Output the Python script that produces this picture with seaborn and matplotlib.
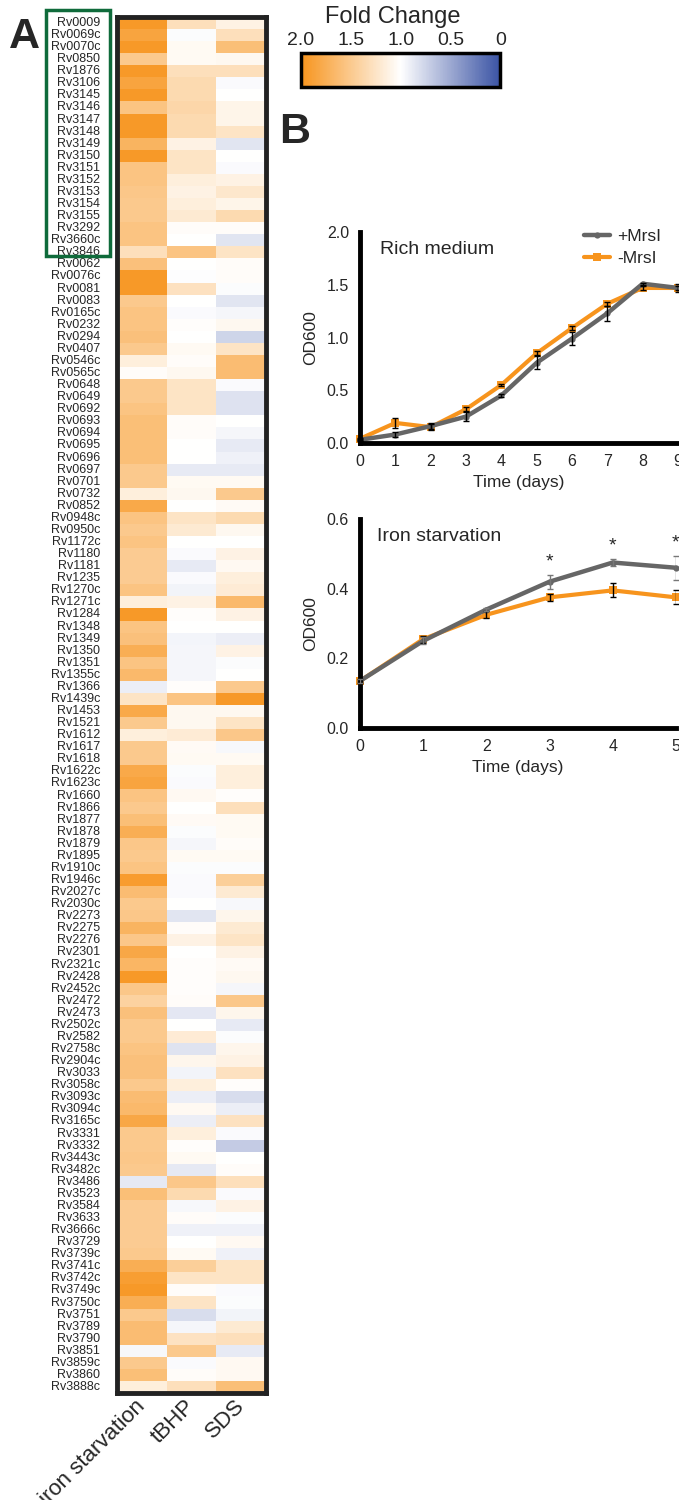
import matplotlib
matplotlib.use("Agg")
import matplotlib.pyplot as plt
from matplotlib.colors import LinearSegmentedColormap
from matplotlib.patches import Rectangle
import matplotlib.transforms as mtransforms
import seaborn as sns
import pandas as pd

sns.set_style("white")
plt.rcParams['font.family'] = ['Liberation Sans', 'DejaVu Sans']

# heatmap data (fold change)
genes = ['Rv0009', 'Rv0069c', 'Rv0070c', 'Rv0850', 'Rv1876', 'Rv3106', 'Rv3145', 'Rv3146', 'Rv3147', 'Rv3148',
         'Rv3149', 'Rv3150', 'Rv3151', 'Rv3152', 'Rv3153', 'Rv3154', 'Rv3155', 'Rv3292', 'Rv3660c', 'Rv3846',
         'Rv0062', 'Rv0076c', 'Rv0081', 'Rv0083', 'Rv0165c', 'Rv0232', 'Rv0294', 'Rv0407', 'Rv0546c', 'Rv0565c',
         'Rv0648', 'Rv0649', 'Rv0692', 'Rv0693', 'Rv0694', 'Rv0695', 'Rv0696', 'Rv0697', 'Rv0701', 'Rv0732', 'Rv0852',
         'Rv0948c', 'Rv0950c', 'Rv1172c', 'Rv1180', 'Rv1181', 'Rv1235', 'Rv1270c', 'Rv1271c', 'Rv1284', 'Rv1348',
         'Rv1349', 'Rv1350', 'Rv1351', 'Rv1355c', 'Rv1366', 'Rv1439c', 'Rv1453', 'Rv1521', 'Rv1612', 'Rv1617', 'Rv1618',
         'Rv1622c', 'Rv1623c', 'Rv1660', 'Rv1866', 'Rv1877', 'Rv1878', 'Rv1879', 'Rv1895', 'Rv1910c', 'Rv1946c',
         'Rv2027c', 'Rv2030c', 'Rv2273', 'Rv2275', 'Rv2276', 'Rv2301', 'Rv2321c', 'Rv2428', 'Rv2452c', 'Rv2472',
         'Rv2473', 'Rv2502c', 'Rv2582', 'Rv2758c', 'Rv2904c', 'Rv3033', 'Rv3058c', 'Rv3093c', 'Rv3094c', 'Rv3165c',
         'Rv3331', 'Rv3332', 'Rv3443c', 'Rv3482c', 'Rv3486', 'Rv3523', 'Rv3584', 'Rv3633', 'Rv3666c', 'Rv3729', 'Rv3739c',
         'Rv3741c', 'Rv3742c', 'Rv3749c', 'Rv3750c', 'Rv3751', 'Rv3789', 'Rv3790', 'Rv3851', 'Rv3859c', 'Rv3860', 'Rv3888c']

iron = [1.95, 1.85, 1.95, 1.5, 1.95, 1.85, 1.95, 1.55, 1.95, 1.95, 1.7, 1.95, 1.55, 1.55, 1.52, 1.5, 1.5, 1.55, 1.55, 1.3,
        1.58, 1.95, 1.95, 1.5, 1.55, 1.55, 1.58, 1.5, 1.15, 1.03, 1.5, 1.5, 1.55, 1.6, 1.6, 1.6, 1.6, 1.5, 1.5, 1.15, 1.8,
        1.55, 1.5, 1.55, 1.48, 1.48, 1.48, 1.55, 1.15, 1.95, 1.55, 1.58, 1.75, 1.55, 1.65, 0.9, 1.25, 1.8, 1.5, 1.15, 1.5, 1.5,
        1.8, 1.85, 1.55, 1.5, 1.6, 1.75, 1.52, 1.5, 1.55, 1.92, 1.62, 1.5, 1.52, 1.7, 1.52, 1.82, 1.68, 1.95, 1.52, 1.42,
        1.58, 1.5, 1.5, 1.55, 1.58, 1.58, 1.5, 1.62, 1.65, 1.82, 1.5, 1.5, 1.52, 1.5, 0.87, 1.6, 1.48, 1.48, 1.48, 1.48, 1.5,
        1.75, 1.9, 1.95, 1.75, 1.5, 1.62, 1.62, 0.96, 1.5, 1.6, 1.15]
tbhp = [1.3, 0.98, 1.05, 1.05, 1.3, 1.35, 1.35, 1.38, 1.35, 1.35, 1.12, 1.25, 1.25, 1.15, 1.12, 1.15, 1.2, 1.03, 1.0, 1.55,
        1.0, 0.99, 1.28, 1.0, 0.97, 1.02, 1.0, 1.05, 1.03, 1.07, 1.25, 1.25, 1.25, 1.03, 1.03, 1.0, 1.0, 0.88, 1.05, 1.07, 1.0,
        1.25, 1.2, 1.0, 0.97, 0.88, 0.97, 0.93, 1.12, 1.02, 1.0, 0.94, 0.95, 0.95, 0.95, 1.02, 1.55, 1.07, 1.07, 1.18, 1.04, 1.05,
        0.98, 0.97, 1.06, 1.0, 1.04, 0.98, 0.95, 1.05, 0.98, 0.97, 0.97, 1.0, 0.85, 1.03, 1.12, 1.0, 1.02, 1.02, 1.02, 1.03,
        0.86, 1.0, 1.18, 0.84, 1.08, 0.93, 1.15, 0.9, 1.06, 0.9, 1.15, 1.02, 1.05, 0.87, 1.52, 1.35, 0.96, 1.03, 0.92, 1.0, 1.05,
        1.45, 1.25, 1.03, 1.25, 0.8, 0.95, 1.27, 1.5, 0.97, 1.03, 1.3]
sds = [1.12, 1.3, 1.6, 1.07, 1.3, 0.97, 1.0, 1.1, 1.1, 1.25, 0.85, 1.0, 0.97, 1.12, 1.22, 1.1, 1.35, 1.03, 0.85, 1.25,
       1.03, 1.03, 0.98, 0.85, 0.95, 1.07, 0.75, 1.25, 1.62, 1.62, 0.97, 0.83, 0.83, 1.0, 0.95, 0.88, 0.92, 0.88, 1.05, 1.5, 1.04,
       1.35, 1.07, 1.0, 1.12, 1.06, 1.15, 1.18, 1.65, 1.12, 1.0, 0.9, 1.12, 0.98, 1.0, 1.5, 1.95, 1.07, 1.25, 1.52, 0.96, 1.05,
       1.15, 1.15, 1.02, 1.3, 1.05, 1.05, 1.03, 1.05, 0.98, 1.45, 1.2, 0.96, 1.08, 1.2, 1.25, 1.12, 1.04, 1.07, 0.95, 1.52,
       1.08, 0.88, 0.98, 1.08, 1.12, 1.28, 1.02, 0.8, 0.9, 1.28, 0.97, 0.7, 1.0, 1.03, 1.3, 0.97, 1.12, 0.98, 0.92, 1.06, 0.92,
       1.25, 1.25, 0.97, 0.98, 0.93, 1.2, 1.3, 0.88, 1.06, 1.06, 1.6]
conditions = ['iron starvation', 'tBHP', 'SDS']
n_boxed = 20
cbar_ticks = [2.0, 1.5, 1.0, 0.5, 0.0]
cbar_ticklabels = ['2.0', '1.5', '1.0', '0.5', '0']

# growth curves
days_rich = [0, 1, 2, 3, 4, 5, 6, 7, 8, 9]
rich_plus = [0.03, 0.08, 0.16, 0.25, 0.45, 0.76, 0.99, 1.23, 1.51, 1.47]
rich_plus_err = [0.01, 0.02, 0.03, 0.04, 0.01, 0.06, 0.06, 0.07, 0.01, 0.04]
rich_minus = [0.04, 0.19, 0.15, 0.32, 0.55, 0.85, 1.09, 1.32, 1.47, 1.47]
rich_minus_err = [0.01, 0.05, 0.03, 0.02, 0.01, 0.02, 0.02, 0.02, 0.02, 0.02]

days_iron = [0, 1, 2, 3, 4, 5]
iron_plus = [0.135, 0.25, 0.34, 0.42, 0.475, 0.46]
iron_plus_err = [0.005, 0.01, 0.005, 0.02, 0.01, 0.035]
iron_minus = [0.135, 0.255, 0.325, 0.375, 0.395, 0.375]
iron_minus_err = [0.005, 0.01, 0.01, 0.01, 0.02, 0.02]
signif_days = [3, 4, 5]

ORANGE = '#F7941D'
GRAY = '#666666'
BLUE = '#3A53A4'

cmap = LinearSegmentedColormap.from_list('fc', [(0, BLUE), (0.5, 'white'), (1, ORANGE)])

fig = plt.figure(figsize=(6.79, 15), dpi=100)

# ---- panel A: heatmap
ax = fig.add_axes([0.1723, 0.0713, 0.2194, 0.9174])
cax = fig.add_axes([0.443, 0.942, 0.294, 0.0227])
df = pd.DataFrame({conditions[0]: iron, conditions[1]: tbhp, conditions[2]: sds}, index=genes)
sns.heatmap(df, ax=ax, cmap=cmap, vmin=0, vmax=2, cbar_ax=cax, yticklabels=True,
            cbar_kws={'orientation': 'horizontal', 'ticks': cbar_ticks})
ax.tick_params(axis='y', length=0, pad=12, labelsize=9)
ax.set_yticklabels(ax.get_yticklabels(), rotation=0)
ax.tick_params(axis='x', length=0, pad=7)
ax.set_xticklabels(ax.get_xticklabels(), rotation=45, ha='right', va='center',
                   rotation_mode='anchor', fontsize=16)
for s in ax.spines.values():
    s.set_visible(True)
    s.set_linewidth(3.5)
    s.set_color('#222222')

# green box around first group of labels
trans = mtransforms.blended_transform_factory(ax.transAxes, ax.transData)
ax.add_patch(Rectangle((-0.477, -0.55), 0.43, n_boxed + 0.35, transform=trans,
                       fill=False, edgecolor='#0F6B3B', linewidth=2.5, clip_on=False))

# colorbar
cbar = ax.collections[0].colorbar
cax.invert_xaxis()
cbar.set_ticklabels(cbar_ticklabels)
cax.xaxis.set_ticks_position('both')
cax.tick_params(axis='x', direction='in', length=5, width=2, top=True, bottom=True,
                labeltop=True, labelbottom=False, labelsize=14, pad=3)
cbar.outline.set_linewidth(2.5)
cbar.outline.set_edgecolor('black')
fig.text(0.5788, 0.9887, 'Fold Change', ha='center', va='center', fontsize=17)

fig.text(0.013, 0.968, 'A', fontsize=31, fontweight='bold', ha='left', va='baseline')
fig.text(0.411, 0.9047, 'B', fontsize=31, fontweight='bold', ha='left', va='baseline')


def style_growth(a, ymax, yticks, xticks):
    a.set_xlim(0, xticks[-1])
    a.set_ylim(0, ymax)
    a.set_xticks(xticks)
    a.set_yticks(yticks)
    a.set_yticklabels([f'{t:.1f}' for t in yticks])
    for side in ['top', 'right']:
        a.spines[side].set_visible(False)
    for side in ['left', 'bottom']:
        a.spines[side].set_linewidth(3.5)
        a.spines[side].set_color('black')
    a.tick_params(width=3.5, length=7, labelsize=11.5, pad=1, color='black')
    a.set_xlabel('Time (days)', fontsize=12.5, labelpad=4)
    a.set_ylabel('OD600', fontsize=12.5, labelpad=6)
    for ln in a.lines:
        ln.set_clip_on(False)


# ---- rich medium
ax1 = fig.add_axes([0.5302, 0.7047, 0.4683, 0.1406])
sns.lineplot(x=days_rich, y=rich_minus, ax=ax1, color=ORANGE, marker='s', markersize=5.5,
             markeredgewidth=0, linewidth=3, label='-MrsI')
sns.lineplot(x=days_rich, y=rich_plus, ax=ax1, color=GRAY, marker='o', markersize=4.5,
             markeredgewidth=0, linewidth=3.2, label='+MrsI')
ax1.errorbar(days_rich, rich_minus, yerr=rich_minus_err, fmt='none', ecolor='black',
             elinewidth=1, capsize=2.5, capthick=1, zorder=4)
ax1.errorbar(days_rich, rich_plus, yerr=rich_plus_err, fmt='none', ecolor='black',
             elinewidth=1, capsize=2.5, capthick=1, zorder=4)
h, l = ax1.get_legend_handles_labels()
ax1.legend([h[1], h[0]], [l[1], l[0]], frameon=False, fontsize=12.5, loc='upper left',
           bbox_to_anchor=(0.655, 1.09), handlelength=1.5, handletextpad=0.4, labelspacing=0.4)
style_growth(ax1, 2.0, [0, 0.5, 1.0, 1.5, 2.0], days_rich)
ax1.text(0.063, 0.915, 'Rich medium', transform=ax1.transAxes, fontsize=14, va='center')

# ---- iron starvation
ax2 = fig.add_axes([0.5302, 0.5147, 0.4653, 0.1393])
sns.lineplot(x=days_iron, y=iron_minus, ax=ax2, color=ORANGE, marker='s', markersize=5.5,
             markeredgewidth=0, linewidth=3, legend=False)
sns.lineplot(x=days_iron, y=iron_plus, ax=ax2, color=GRAY, marker='o', markersize=4.5,
             markeredgewidth=0, linewidth=3.2, legend=False)
ax2.errorbar(days_iron, iron_minus, yerr=iron_minus_err, fmt='none', ecolor='black',
             elinewidth=1, capsize=2.5, capthick=1, zorder=4)
ax2.errorbar(days_iron, iron_plus, yerr=iron_plus_err, fmt='none', ecolor='#777777',
             elinewidth=1, capsize=2.5, capthick=1, zorder=4)
style_growth(ax2, 0.6, [0, 0.2, 0.4, 0.6], days_iron)
ax2.text(0.055, 0.914, 'Iron starvation', transform=ax2.transAxes, fontsize=14, va='center')
for d in signif_days:
    i = days_iron.index(d)
    ax2.text(d, iron_plus[i] + iron_plus_err[i] + 0.012, '*', ha='center', va='bottom',
             fontsize=14, clip_on=False)

fig.savefig('out.png', dpi=100)
